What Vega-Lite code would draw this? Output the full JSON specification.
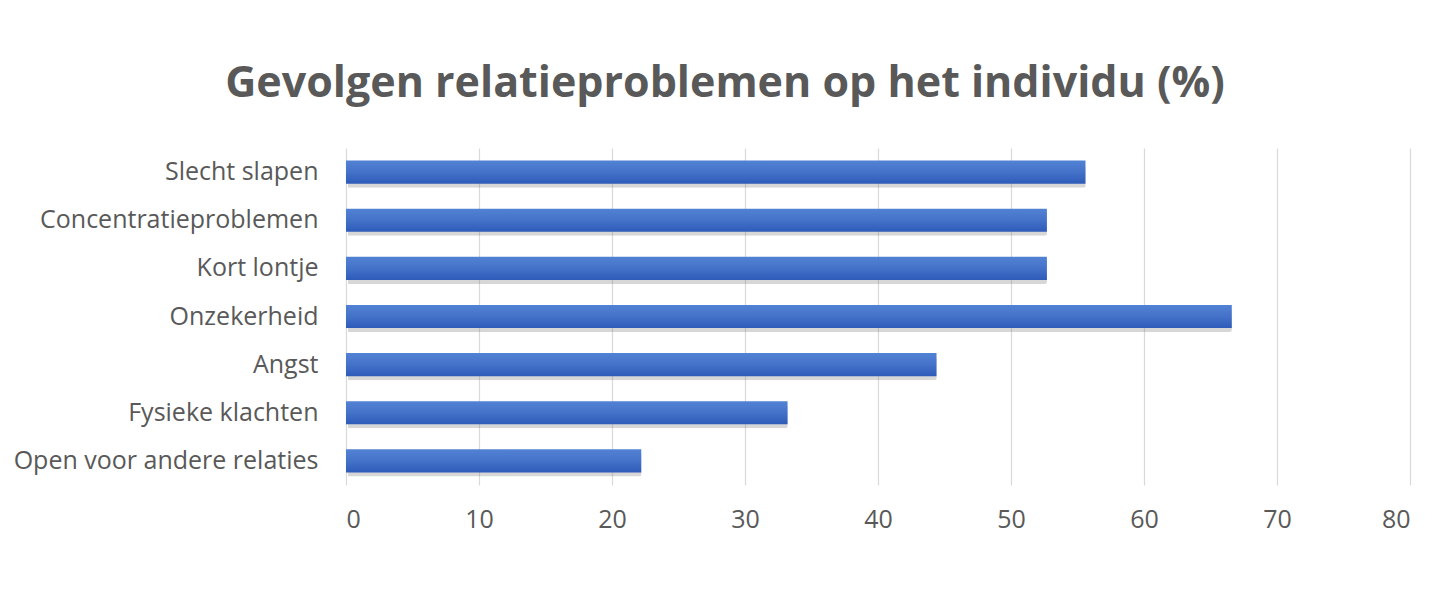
{
  "$schema": "https://vega.github.io/schema/vega-lite/v6.json",
  "autosize": "none",
  "padding": {"left": 346, "top": 148, "right": 30, "bottom": 115},
  "width": 1064,
  "height": 337,
  "background": "white",
  "title": {
    "text": "Gevolgen relatieproblemen op het individu (%)",
    "font": "Open Sans",
    "fontSize": 43,
    "fontWeight": "bold",
    "color": "#595959",
    "anchor": "middle",
    "frame": "group",
    "dx": -153,
    "offset": 42
  },
  "data": {
    "values": [
      {"gevolg": "Slecht slapen", "pct": 55.6},
      {"gevolg": "Concentratieproblemen", "pct": 52.7},
      {"gevolg": "Kort lontje", "pct": 52.7},
      {"gevolg": "Onzekerheid", "pct": 66.6},
      {"gevolg": "Angst", "pct": 44.4},
      {"gevolg": "Fysieke klachten", "pct": 33.2},
      {"gevolg": "Open voor andere relaties", "pct": 22.2}
    ]
  },
  "encoding": {
    "y": {
      "field": "gevolg",
      "type": "nominal",
      "sort": null,
      "title": null,
      "scale": {"paddingInner": 0.52, "paddingOuter": 0.26},
      "axis": {
        "ticks": false,
        "domain": false,
        "labelPadding": 28,
        "labelFont": "Open Sans",
        "labelFontSize": 25,
        "labelColor": "#595959",
        "labelLimit": 400
      }
    },
    "x": {
      "field": "pct",
      "type": "quantitative",
      "title": null,
      "scale": {"domain": [0, 80], "nice": false},
      "axis": {
        "values": [0, 10, 20, 30, 40, 50, 60, 70, 80],
        "ticks": false,
        "domain": false,
        "grid": true,
        "gridColor": "#d9d9d9",
        "gridWidth": 1.2,
        "labelPadding": 22,
        "labelFont": "Open Sans",
        "labelFontSize": 25,
        "labelColor": "#595959"
      }
    }
  },
  "layer": [
    {
      "mark": {"type": "bar", "color": "#7a7a7a", "opacity": 0.3, "yOffset": 4, "xOffset": 2, "cornerRadius": 2}
    },
    {
      "mark": {
        "type": "bar",
        "color": {
          "gradient": "linear",
          "x1": 0, "y1": 0, "x2": 0, "y2": 1,
          "stops": [
            {"offset": 0, "color": "#5282d4"},
            {"offset": 0.5, "color": "#4472c9"},
            {"offset": 1, "color": "#2d5bb8"}
          ]
        }
      }
    }
  ],
  "config": {
    "view": {"stroke": null}
  }
}
